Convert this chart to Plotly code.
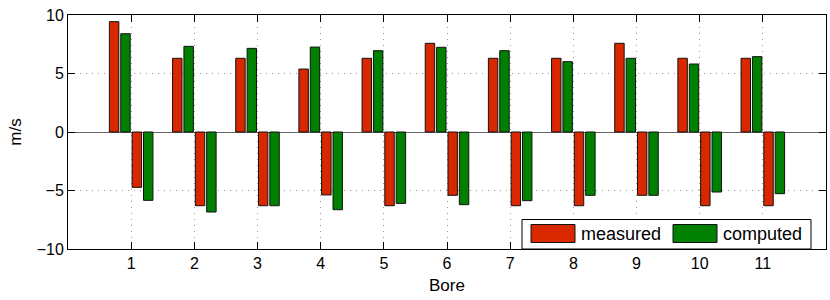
import plotly.graph_objects as go

bores = list(range(1, 12))
tick_labels = [str(b) for b in bores]
measured_pos = [9.43, 6.3, 6.3, 5.38, 6.3, 7.58, 6.3, 6.3, 7.58, 6.3, 6.3]
computed_pos = [8.4, 7.32, 7.15, 7.26, 6.95, 7.24, 6.95, 6.01, 6.3, 5.81, 6.44]
measured_neg = [-4.73, -6.3, -6.3, -5.38, -6.3, -5.41, -6.3, -6.3, -5.41, -6.3, -6.3]
computed_neg = [-5.84, -6.84, -6.3, -6.64, -6.1, -6.21, -5.87, -5.41, -5.41, -5.13, -5.27]
legend_names = ["measured", "computed"]

RED = "#d92800"
GREEN = "#008000"
FONT = "Liberation Sans, Arial, sans-serif"

W, H = 830, 300
PL, PR, PT, PB = 68, 826, 15, 249   # plot area in window pixels
L, T = PL, PT
R, B = W - PR, H - PB
PW, PH = PR - PL, PB - PT

fig = go.Figure()
series = [
    ("measured", measured_pos, RED),
    ("computed", computed_pos, GREEN),
    ("measured", measured_neg, RED),
    ("computed", computed_neg, GREEN),
]
for name, vals, col in series:
    fig.add_trace(go.Bar(
        x=bores, y=vals, name=name, showlegend=False,
        marker=dict(color=col, line=dict(color="#111111", width=1)),
    ))

def px_x(p):
    return (p - PL) / PW

def px_y(p):
    return (PB - p) / PH

# manual legend (MATLAB style wide patches)
shapes = [dict(type="rect", xref="paper", yref="paper",
               x0=px_x(522), x1=px_x(811), y0=px_y(249), y1=px_y(219.5),
               line=dict(color="black", width=1), fillcolor="white", layer="above")]
annotations = []
patch_x = [(531, 575), (673, 717)]
text_x = [579, 721]
for (x0, x1), tx, name, col in zip(patch_x, text_x, legend_names, [RED, GREEN]):
    shapes.append(dict(type="rect", xref="paper", yref="paper",
                       x0=px_x(x0), x1=px_x(x1), y0=px_y(242.5), y1=px_y(224.5),
                       line=dict(color="#111111", width=1), fillcolor=col, layer="above"))
    annotations.append(dict(xref="paper", yref="paper", x=px_x(tx), y=px_y(234),
                            text=name, showarrow=False, xanchor="left", yanchor="middle",
                            font=dict(size=18, family=FONT, color="black")))

fig.update_layout(
    width=W, height=H,
    margin=dict(l=L, r=R, t=T, b=B),
    paper_bgcolor="white", plot_bgcolor="white",
    barmode="group", bargap=0.28, bargroupgap=0.17,
    font=dict(family=FONT, size=16, color="black"),
    shapes=shapes, annotations=annotations,
    xaxis=dict(
        range=[0, 12], tickvals=bores, ticktext=tick_labels,
        ticks="inside", ticklen=7, tickcolor="black", mirror="ticks",
        showline=True, linecolor="black", linewidth=1,
        showgrid=True, gridcolor="#999999", griddash="1px,5px", gridwidth=1,
        zeroline=False, automargin=False,
        title=dict(text="Bore", standoff=7, font=dict(size=17)),
        tickfont=dict(size=16),
    ),
    yaxis=dict(
        range=[-10, 10], tickvals=[-10, -5, 0, 5, 10],
        ticktext=["\u221210", "\u22125", "0", "5", "10"],
        ticks="inside", ticklen=7, tickcolor="black", mirror="ticks",
        showline=True, linecolor="black", linewidth=1,
        showgrid=True, gridcolor="#999999", griddash="1px,5px", gridwidth=1,
        zeroline=True, zerolinecolor="#666666", zerolinewidth=1,
        automargin=False,
        title=dict(text="m/s", standoff=10, font=dict(size=17)),
        tickfont=dict(size=16),
    ),
)

fig.write_html("out.html", config={"displayModeBar": False},
               post_script="document.body.style.margin='0';")
